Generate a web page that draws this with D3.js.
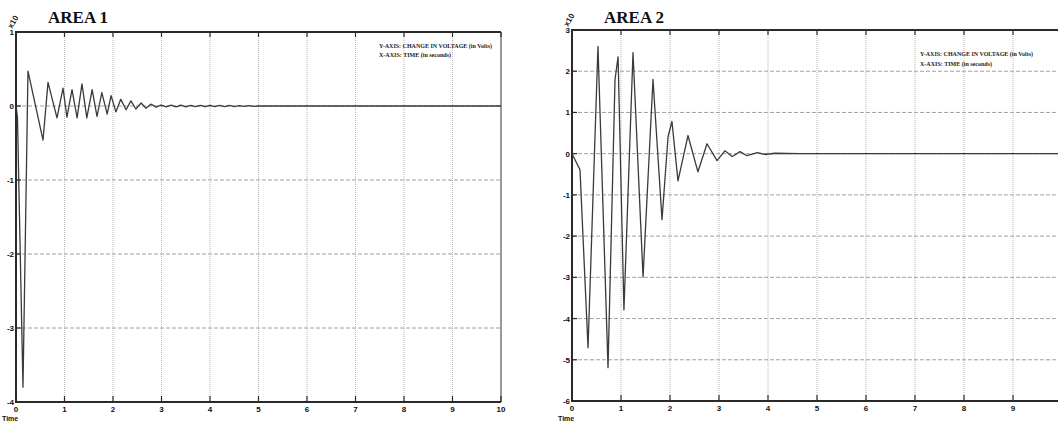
<!DOCTYPE html>
<meta charset="utf-8">
<style>
body { margin: 0; background: #fff; }
svg { display: block; }
.title { font-family: "Liberation Serif", serif; font-weight: bold; font-size: 17px; fill: #111; }
.tick-label { font-family: "Liberation Sans", sans-serif; font-weight: bold; font-size: 8px; fill: #111; }
.note { font-family: "Liberation Serif", serif; font-weight: bold; font-size: 6.5px; fill: #222; }
</style>
<script src="https://d3js.org/d3.v7.min.js"></script>
<body>
<div id="chart"></div>
<script>
// ---- data ----
var xTicks = [0, 1, 2, 3, 4, 5, 6, 7, 8, 9, 10];
var area1YTicks = [1, 0, -1, -2, -3, -4];
var area2YTicks = [3, 2, 1, 0, -1, -2, -3, -4, -5, -6];
var noteLines = ["Y-AXIS: CHANGE IN VOLTAGE (in Volts)", "X-AXIS: TIME (in seconds)"];

var area1Time = [0, 0.03, 0.144, 0.247, 0.557, 0.66, 0.845, 0.97, 1.05, 1.155, 1.26, 1.36, 1.46, 1.57, 1.67,
  1.77, 1.88, 1.96, 2.06, 2.16, 2.27, 2.37, 2.47, 2.58, 2.68, 2.78, 2.89, 2.99,
  3.1, 3.2, 3.3, 3.4, 3.5, 3.6, 3.7, 3.8, 3.9, 4.0, 4.1, 4.2, 4.3, 4.4, 4.5, 4.6, 4.7, 4.8, 4.9, 5.0, 10];
var area1Volt = [0, -0.15, -3.8, 0.47, -0.46, 0.32, -0.16, 0.24, -0.15, 0.22, -0.16, 0.30, -0.16, 0.22, -0.14,
  0.18, -0.11, 0.14, -0.08, 0.09, -0.05, 0.07, -0.04, 0.04, -0.03, 0.025, -0.015, 0.012,
  -0.012, 0.012, -0.012, 0.012, -0.012, 0.01, -0.01, 0.01, -0.01, 0.01, -0.01, 0.008, -0.008, 0.008, -0.008, 0.006, -0.006, 0.005, -0.005, 0, 0];

var area2Time = [0, 0.163, 0.327, 0.53, 0.735, 0.878, 0.94, 1.06, 1.245, 1.45, 1.653, 1.837, 1.96, 2.04, 2.163,
  2.367, 2.57, 2.755, 2.96, 3.12, 3.27, 3.43, 3.57, 3.78, 3.94, 4.14, 4.65, 10];
var area2Volt = [0, -0.39, -4.71, 2.60, -5.19, 1.80, 2.35, -3.79, 2.45, -2.99, 1.80, -1.60, 0.41, 0.78, -0.66,
  0.44, -0.44, 0.24, -0.17, 0.07, -0.07, 0.05, -0.05, 0.025, -0.02, 0.01, 0, 0];

var pageWidth = 1058;

var svg = d3.select("#chart").append("svg")
  .attr("width", pageWidth)
  .attr("height", 423);

function drawPanel(opt) {
  var x = d3.scaleLinear().domain([0, 10]).range([opt.left, opt.right]);
  var y = d3.scaleLinear().domain([opt.yTicks[opt.yTicks.length - 1], opt.yTicks[0]]).range([opt.bottom, opt.top]);
  var g = svg.append("g");

  // vertical grid (dotted)
  g.selectAll(".vgrid").data(xTicks.slice(1, -1)).enter().append("line")
    .attr("x1", d => x(d)).attr("x2", d => x(d))
    .attr("y1", opt.top).attr("y2", opt.bottom)
    .attr("stroke", "#b8b8b8").attr("stroke-width", 1).attr("stroke-dasharray", "1,1");

  // horizontal grid (dashed)
  g.selectAll(".hgrid").data(opt.yTicks.slice(1, -1)).enter().append("line")
    .attr("x1", opt.left).attr("x2", opt.right)
    .attr("y1", d => y(d)).attr("y2", d => y(d))
    .attr("stroke", "#a0a0a0").attr("stroke-width", 1).attr("stroke-dasharray", "4,2");

  // right border
  g.append("line")
    .attr("x1", opt.right).attr("x2", opt.right).attr("y1", opt.top).attr("y2", opt.bottom)
    .attr("stroke", "#777").attr("stroke-width", 1.5);

  // signal
  var pts = opt.time.map((t, i) => [t, opt.volt[i]]);
  g.append("path")
    .datum(pts)
    .attr("fill", "none")
    .attr("stroke", "#3a3a3a")
    .attr("stroke-width", 1.3)
    .attr("stroke-linejoin", "round")
    .attr("d", d3.line().x(d => x(d[0])).y(d => y(d[1])));

  // axes frame: top, left, bottom
  g.append("path")
    .attr("d", "M" + opt.right + "," + opt.top + "H" + opt.left + "V" + opt.bottom + "H" + opt.right)
    .attr("fill", "none").attr("stroke", "#2a2a2a").attr("stroke-width", 2);

  // bottom + top + left inside ticks
  g.selectAll(".bt").data(xTicks).enter().append("line")
    .attr("x1", d => x(d)).attr("x2", d => x(d))
    .attr("y1", opt.bottom).attr("y2", opt.bottom - 6)
    .attr("stroke", "#2a2a2a").attr("stroke-width", 1.2);
  g.selectAll(".tt").data(xTicks).enter().append("line")
    .attr("x1", d => x(d)).attr("x2", d => x(d))
    .attr("y1", opt.top).attr("y2", opt.top + 5)
    .attr("stroke", "#2a2a2a").attr("stroke-width", 1.2);
  g.selectAll(".lt").data(opt.yTicks).enter().append("line")
    .attr("x1", opt.left).attr("x2", opt.left + 5)
    .attr("y1", d => y(d)).attr("y2", d => y(d))
    .attr("stroke", "#2a2a2a").attr("stroke-width", 1.2);

  // tick labels (only those that fall on the page)
  g.selectAll(".xl").data(xTicks.filter(d => x(d) < pageWidth - 6)).enter().append("text")
    .attr("class", "tick-label")
    .attr("x", d => x(d)).attr("y", opt.bottom + 10)
    .attr("text-anchor", "middle")
    .text(d => d);
  g.selectAll(".yl").data(opt.yTicks).enter().append("text")
    .attr("class", "tick-label")
    .attr("x", opt.left - 2).attr("y", d => y(d) + 3)
    .attr("text-anchor", "end")
    .text(d => d);

  // small exponent mark at the top left corner
  g.append("text")
    .attr("class", "tick-label")
    .attr("transform", "translate(" + (opt.left - 4) + "," + (opt.top - 3) + ") rotate(-60)")
    .text("x10");

  // title
  g.append("text")
    .attr("class", "title")
    .attr("x", opt.left + 32).attr("y", 23)
    .text(opt.title);

  // axis note
  g.selectAll(".note").data(noteLines).enter().append("text")
    .attr("class", "note")
    .attr("x", opt.noteX).attr("y", (d, i) => opt.noteY + i * opt.noteGap)
    .attr("textLength", (d, i) => i == 0 ? 113 : 72)
    .attr("lengthAdjust", "spacingAndGlyphs")
    .text(d => d);

  // time label under the axis
  g.append("text")
    .attr("class", "tick-label")
    .attr("x", Math.max(2, opt.left - 14)).attr("y", 421)
    .style("font-size", "7px")
    .text("Time");
}

drawPanel({
  title: "AREA 1", left: 16, right: 501, top: 32, bottom: 402,
  yTicks: area1YTicks, time: area1Time, volt: area1Volt,
  noteX: 379, noteY: 48, noteGap: 9
});

drawPanel({
  title: "AREA 2", left: 572, right: 1062, top: 30, bottom: 401,
  yTicks: area2YTicks, time: area2Time, volt: area2Volt,
  noteX: 920, noteY: 56, noteGap: 10
});
</script>
</body>
